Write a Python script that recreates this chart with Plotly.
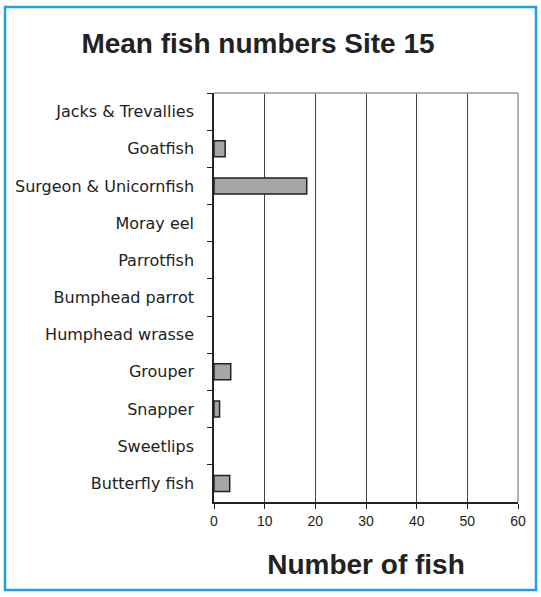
import plotly.graph_objects as go

# Data (top to bottom)
species = ["Jacks & Trevallies", "Goatfish", "Surgeon & Unicornfish", "Moray eel",
           "Parrotfish", "Bumphead parrot", "Humphead wrasse", "Grouper",
           "Snapper", "Sweetlips", "Butterfly fish"]
mean_counts = [0, 2.2, 18.3, 0, 0, 0, 0, 3.3, 1.1, 0, 3.1]
x_ticks = [0, 10, 20, 30, 40, 50, 60]

# no outline on empty bars, so zero counts leave no mark
outline = [1.5 if v > 0 else 0 for v in mean_counts]

fig = go.Figure(go.Bar(
    x=mean_counts,
    y=species,
    orientation="h",
    marker=dict(color="#A6A6A6", line=dict(color="#222222", width=outline)),
))

W, H = 541, 597
L, R, T, B = 214, 23, 93, 95
pw, ph = W - L - R, H - T - B

def px_x(p):
    return (p - L) / pw

def px_y(p):
    return (H - B - p) / ph

fig.update_layout(
    width=W, height=H,
    margin=dict(l=L, r=R, t=T, b=B),
    paper_bgcolor="white", plot_bgcolor="white",
    showlegend=False,
    bargap=0.57,
    font=dict(family="Liberation Sans, Arial, sans-serif", color="#222222"),
    title=dict(text="<b>Mean fish numbers Site 15</b>", x=258 / W, xanchor="center",
               y=1 - 43 / H, yanchor="middle", font=dict(size=28, color="#222222")),
    shapes=[
        # blue frame round the whole chart
        dict(type="rect", xref="paper", yref="paper",
             x0=px_x(5), x1=px_x(536), y0=px_y(590), y1=px_y(7),
             line=dict(color="#1BA1E2", width=2.5)),
        # grey top edge of plot area
        dict(type="line", xref="paper", yref="paper", x0=0, x1=1, y0=1, y1=1,
             line=dict(color="#999999", width=1.5)),
        # grey right edge of plot area
        dict(type="line", xref="paper", yref="paper", x0=1, x1=1, y0=0, y1=1,
             line=dict(color="#999999", width=1.5)),
    ],
)

fig.update_xaxes(
    range=[0, 60], tickvals=x_ticks, ticks="outside", ticklen=5, tickcolor="#222",
    showline=True, linecolor="#222", linewidth=1.5,
    showgrid=True, gridcolor="#444444", gridwidth=1, zeroline=False,
    tickfont=dict(size=14),
    title=dict(text="<b>Number of fish</b>", font=dict(size=28, color="#222222"), standoff=27),
)
fig.update_yaxes(
    categoryorder="array", categoryarray=species, autorange="reversed",
    tickson="boundaries", ticks="outside", ticklen=5, tickcolor="#222",
    showline=True, linecolor="#222", linewidth=1.5, showgrid=False,
    tickfont=dict(size=16, family="DejaVu Sans, sans-serif"), ticklabelstandoff=15,
)

fig.write_html("out.html", config={"displayModeBar": False},
               post_script="document.body.style.margin='0';document.body.style.overflow='hidden';")
